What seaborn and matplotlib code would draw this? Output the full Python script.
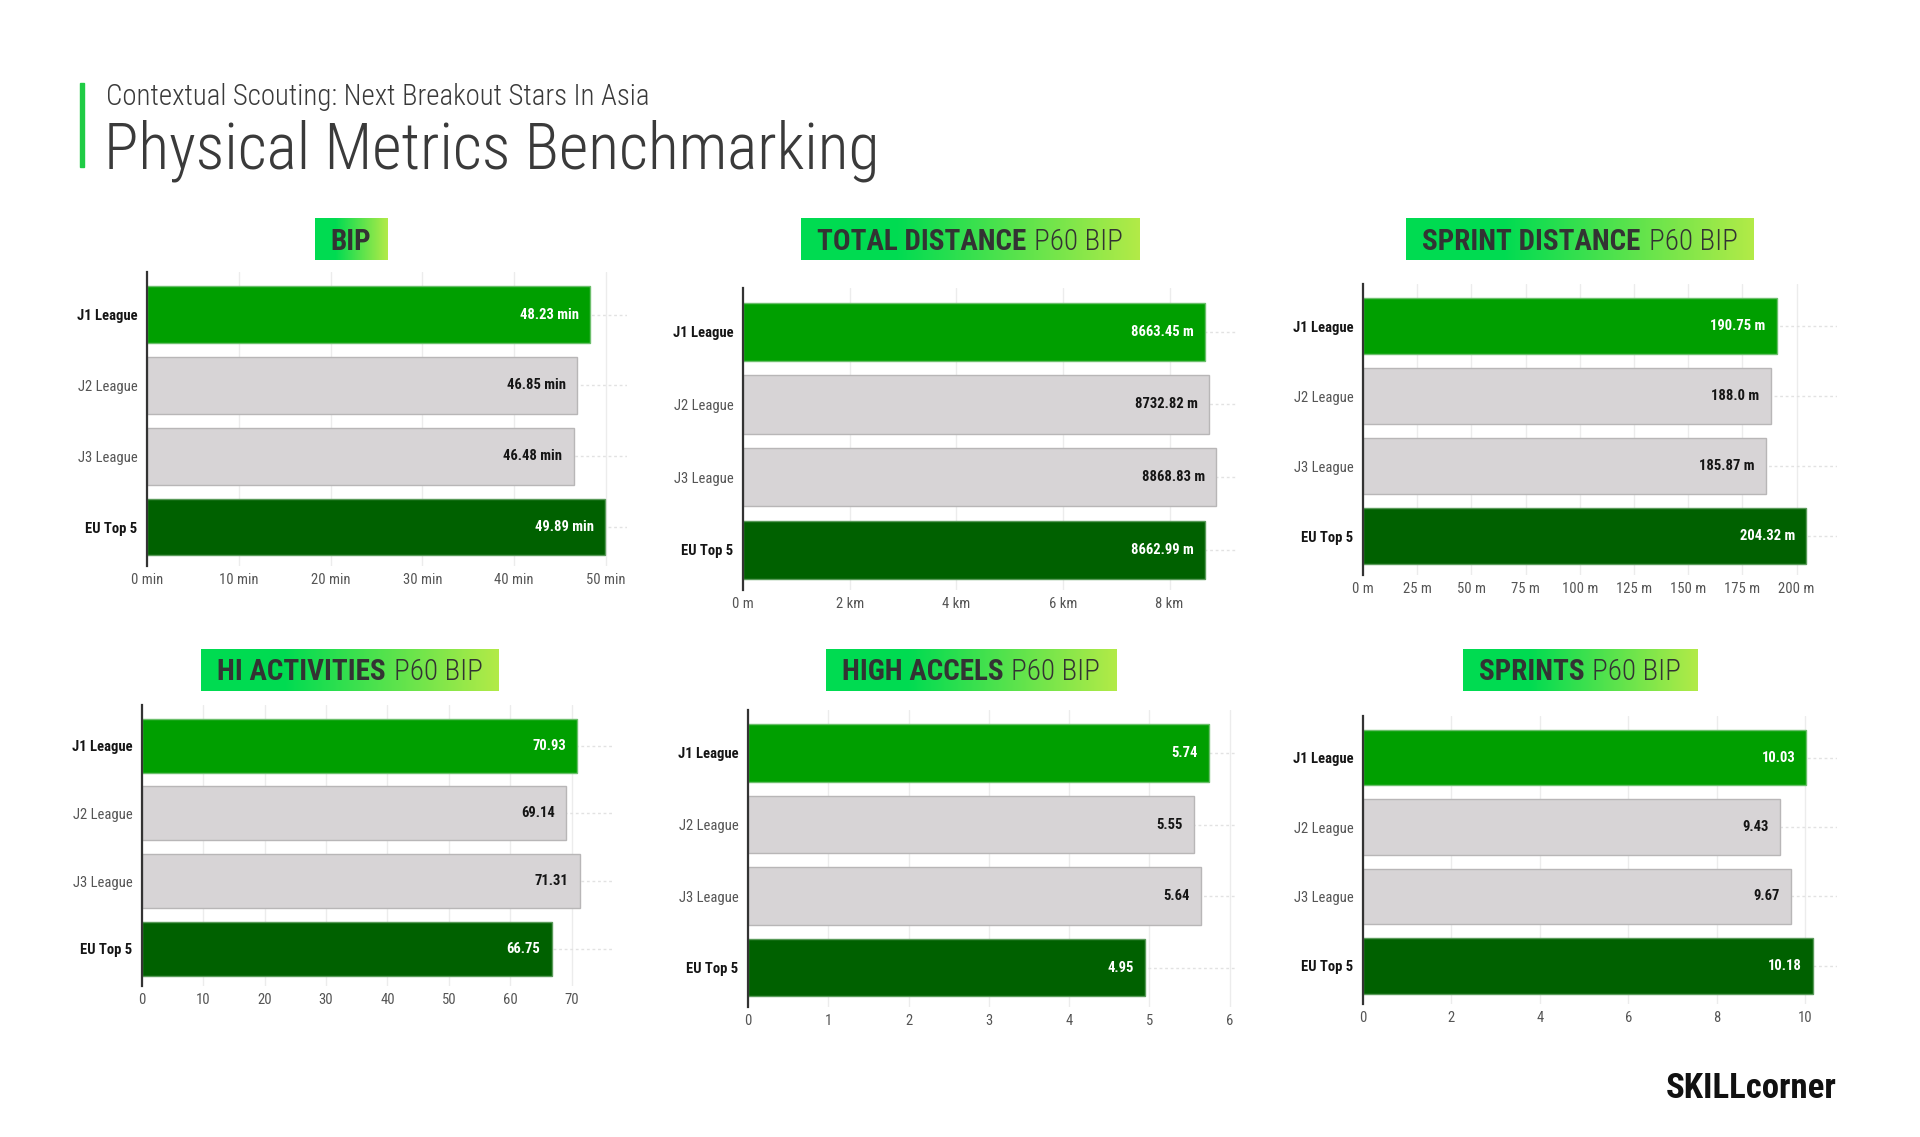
import matplotlib
matplotlib.use("Agg")
import numpy as np
import pandas as pd
import seaborn as sns
from matplotlib import pyplot as plt
from matplotlib import font_manager as fm
from matplotlib.patches import Rectangle
from matplotlib.ticker import FuncFormatter

leagues = ['J1 League', 'J2 League', 'J3 League', 'EU Top 5']
bip = [48.23, 46.85, 46.48, 49.89]
total_distance = [8663.45, 8732.82, 8868.83, 8662.99]
sprint_distance = [190.75, 188.0, 185.87, 204.32]
hi_activities = [70.93, 69.14, 71.31, 66.75]
high_accels = [5.74, 5.55, 5.64, 4.95]
sprints = [10.03, 9.43, 9.67, 10.18]

sns.set_theme(style='white')

names = {f.name for f in fm.fontManager.ttflist}
narrow = next((n for n in ['Roboto Condensed', 'Liberation Sans Narrow', 'Open Sans Condensed']
               if n in names), 'DejaVu Sans')
plt.rcParams['font.family'] = [narrow, 'DejaVu Sans']
plt.rcParams['font.stretch'] = 'condensed'

W, H = 1920, 1137
fig = plt.figure(figsize=(19.2, 11.37), dpi=100)
fig.patch.set_facecolor('white')

bar_colors = ['#009f00', '#d7d4d6', '#d7d4d6', '#006100']
edge_colors = ['#6cbf6c', '#b8b6b7', '#b8b6b7', '#5a9a5a']
text_colors = ['white', '#151515', '#151515', 'white']

def fx(px):
    return px / W

def fy(py):
    return 1 - py / H

# header
fig.patches.append(Rectangle((fx(80), fy(167)), 4 / W, 84 / H, transform=fig.transFigure,
                             color='#1fcc45', zorder=1))
fig.text(fx(106), fy(105), 'Contextual Scouting: Next Breakout Stars In Asia',
         fontsize=20.8, fontweight='light', color='#3a3a3a', va='baseline')
fig.text(fx(104), fy(168), 'Physical Metrics Benchmarking',
         fontsize=46, fontweight='light', color='#3a3a3a', va='baseline')
fig.text(fx(1837), fy(1098), 'SKILLcorner', fontsize=25, fontweight='heavy',
         color='#111111', ha='right', va='baseline')

# gradient for the title boxes
t = np.linspace(0, 1, 256)
w = np.clip((t - 0.28) / 0.72, 0, 1)[:, None]
c0 = np.array([0.0, 0.86, 0.32])
c1 = np.array([0.70, 0.92, 0.28])
grad = (c0 * (1 - w) + c1 * w)[None, :, :]

renderer = fig.canvas.get_renderer()

def panel_title(cx, cy, bold, light):
    fs = 21
    base = fy(cy + 0.36 * fs * 100 / 72)
    t1 = fig.text(0, base, bold, fontsize=fs, fontweight='bold', color='#333333', va='baseline')
    w1 = t1.get_window_extent(renderer).width
    total = w1
    t2 = None
    gap = 0.28 * fs * 100 / 72
    if light:
        t2 = fig.text(0, base, light, fontsize=fs, fontweight='light', color='#333333',
                      va='baseline')
        total = w1 + gap + t2.get_window_extent(renderer).width
    x0 = cx - total / 2
    t1.set_x(fx(x0))
    if t2 is not None:
        t2.set_x(fx(x0 + w1 + gap))
    pad = 16
    bax = fig.add_axes([fx(x0 - pad), fy(cy + 21.5), (total + 2 * pad) / W, 43 / H])
    bax.imshow(grad, aspect='auto', extent=[0, 1, 0, 1])
    bax.axis('off')

def panel(box, values, xmax, ticks, tickfmt, unit, title, sub, tpos):
    l, tp, r, b = box
    ax = fig.add_axes([fx(l), fy(b), (r - l) / W, (b - tp) / H])
    df = pd.DataFrame({'league': leagues, 'value': values})
    sns.barplot(data=df, x='value', y='league', hue='league', palette=bar_colors,
                orient='h', width=0.8, saturation=1, legend=False, ax=ax)
    for p, ec in zip(ax.patches, edge_colors):
        p.set_edgecolor(ec)
        p.set_linewidth(1)
    for p, v, tc in zip(ax.patches, values, text_colors):
        ax.annotate(f'{v}{unit}', (p.get_width(), p.get_y() + p.get_height() / 2),
                    xytext=(-8, 0), textcoords='offset points', ha='right', va='center',
                    fontsize=10.5, fontweight='bold', color=tc)
    ax.set_xlim(0, xmax)
    ax.set_ylim(3.55, -0.6)
    ax.set_xticks(ticks)
    ax.xaxis.set_major_formatter(FuncFormatter(tickfmt))
    ax.set_xlabel('')
    ax.set_ylabel('')
    ax.set_axisbelow(True)
    ax.grid(axis='x', color='#ececec', linewidth=1)
    ax.grid(axis='y', color='#e2e2e2', linewidth=1, linestyle=(0, (2, 2)))
    for s in ['top', 'right', 'bottom']:
        ax.spines[s].set_visible(False)
    ax.spines['left'].set_color('#333333')
    ax.spines['left'].set_linewidth(1.6)
    ax.tick_params(axis='x', length=0, pad=5, labelsize=10.5, labelcolor='#555555')
    ax.tick_params(axis='y', length=4, width=1, color='#333333', pad=3, labelsize=10.5)
    for lbl in ax.get_yticklabels():
        if lbl.get_text() in ('J1 League', 'EU Top 5'):
            lbl.set_fontweight('bold')
            lbl.set_color('#151515')
        else:
            lbl.set_color('#555555')
    panel_title(tpos[0], tpos[1], title, sub)
    return ax

panel((147, 272, 627, 566), bip, 52.3, range(0, 51, 10),
      lambda x, p: f'{x:.0f} min', ' min', 'BIP', '', (351, 239))
panel((743, 288, 1237, 590), total_distance, 9264, range(0, 8001, 2000),
      lambda x, p: '0 m' if x == 0 else f'{x / 1000:.0f} km', ' m',
      'TOTAL DISTANCE', 'P60 BIP', (970, 239))
panel((1363, 284, 1837, 575), sprint_distance, 218.6, range(0, 201, 25),
      lambda x, p: f'{x:.0f} m', ' m', 'SPRINT DISTANCE', 'P60 BIP', (1580, 239))
panel((142, 705, 612, 986), hi_activities, 76.6, range(0, 71, 10),
      lambda x, p: f'{x:.0f}', '', 'HI ACTIVITIES', 'P60 BIP', (350, 670))
panel((748, 710, 1237, 1007), high_accels, 6.09, range(0, 7),
      lambda x, p: f'{x:.0f}', '', 'HIGH ACCELS', 'P60 BIP', (971, 670))
panel((1363, 716, 1837, 1004), sprints, 10.72, range(0, 11, 2),
      lambda x, p: f'{x:.0f}', '', 'SPRINTS', 'P60 BIP', (1580, 670))

fig.savefig('out.png', dpi=100)
